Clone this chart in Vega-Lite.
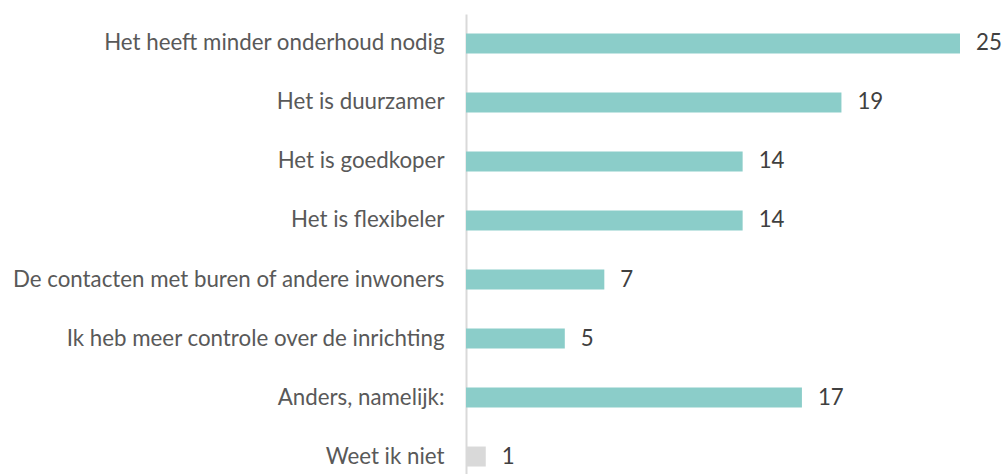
{
  "$schema": "https://vega.github.io/schema/vega-lite/v6.json",
  "autosize": "none",
  "padding": {"left": 466, "top": 14, "right": 43, "bottom": 0},
  "width": 494,
  "height": 472,
  "background": "white",
  "config": {"view": {"stroke": null}, "font": "Lato"},
  "data": {"values": [
    {"label": "Het heeft minder onderhoud nodig", "value": 25, "cat": "a"},
    {"label": "Het is duurzamer", "value": 19, "cat": "a"},
    {"label": "Het is goedkoper", "value": 14, "cat": "a"},
    {"label": "Het is flexibeler", "value": 14, "cat": "a"},
    {"label": "De contacten met buren of andere inwoners", "value": 7, "cat": "a"},
    {"label": "Ik heb meer controle over de inrichting", "value": 5, "cat": "a"},
    {"label": "Anders, namelijk:", "value": 17, "cat": "a"},
    {"label": "Weet ik niet", "value": 1, "cat": "b"}
  ]},
  "encoding": {
    "y": {"field": "label", "type": "nominal", "sort": null,
      "scale": {"paddingInner": 0.661, "paddingOuter": 0.33},
      "axis": {"title": null, "ticks": false, "domainColor": "#D9D9D9", "domainWidth": 2,
        "labelFontSize": 22.3, "labelColor": "#595959", "labelPadding": 22, "labelLimit": 600, "labelFont": "Lato"}},
    "x": {"field": "value", "type": "quantitative", "scale": {"domain": [0, 25], "nice": false}, "axis": null}
  },
  "layer": [
    {"mark": {"type": "bar"},
     "encoding": {"color": {"field": "cat", "type": "nominal", "scale": {"domain": ["a", "b"], "range": ["#8BCDC9", "#D9D9D9"]}, "legend": null}}},
    {"mark": {"type": "text", "align": "left", "dx": 16, "fontSize": 22.3, "color": "#404040", "font": "Lato"},
     "encoding": {"text": {"field": "value", "type": "quantitative"}}}
  ]
}
